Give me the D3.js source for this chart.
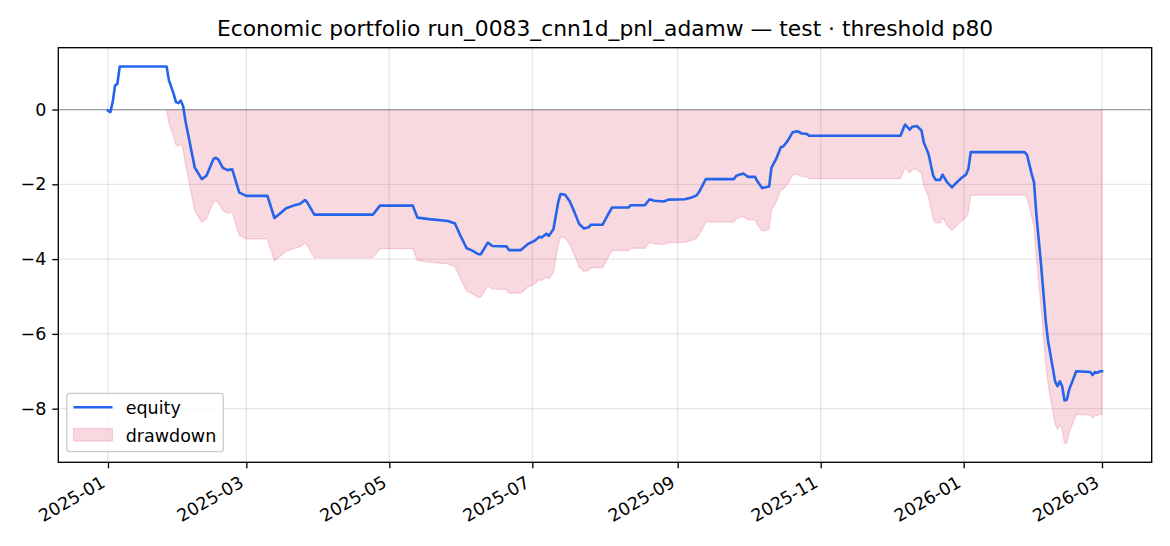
<!DOCTYPE html>
<html>
<head>
<meta charset="utf-8">
<script src="https://cdn.jsdelivr.net/npm/d3@7"></script>
<style>
  html, body { margin: 0; padding: 0; background: #fff; }
  svg { display: block; font-family: "DejaVu Sans", sans-serif; }
</style>
</head>
<body>
<svg id="chart" width="1170" height="546"></svg>
<script>
// ---------------- data ----------------
const titleText = "Economic portfolio run_0083_cnn1d_pnl_adamw — test · threshold p80";

const dates = [
  "2025-01-01","2025-01-02","2025-01-03","2025-01-04","2025-01-05","2025-01-06","2025-01-26","2025-01-27",
  "2025-01-29","2025-01-30","2025-01-31","2025-02-01","2025-02-02","2025-02-03","2025-02-07","2025-02-10",
  "2025-02-12","2025-02-15","2025-02-16","2025-02-17","2025-02-19","2025-02-21","2025-02-23","2025-02-26",
  "2025-03-01","2025-03-10","2025-03-13","2025-03-15","2025-03-18","2025-03-22","2025-03-24","2025-03-26",
  "2025-03-27","2025-03-30","2025-04-24","2025-04-27","2025-05-11","2025-05-13","2025-05-18","2025-05-26",
  "2025-05-29","2025-05-31","2025-06-03","2025-06-05","2025-06-08","2025-06-09","2025-06-12","2025-06-14",
  "2025-06-20","2025-06-21","2025-06-26","2025-06-29","2025-07-02","2025-07-04","2025-07-05","2025-07-07",
  "2025-07-08","2025-07-10","2025-07-12","2025-07-13","2025-07-15","2025-07-17","2025-07-19","2025-07-21",
  "2025-07-23","2025-07-25","2025-07-26","2025-07-31","2025-08-02","2025-08-04","2025-08-11","2025-08-12",
  "2025-08-18","2025-08-20","2025-08-22","2025-08-26","2025-08-28","2025-09-04","2025-09-07","2025-09-09",
  "2025-09-10","2025-09-13","2025-09-25","2025-09-26","2025-09-29","2025-10-01","2025-10-04","2025-10-05",
  "2025-10-07","2025-10-10","2025-10-11","2025-10-13","2025-10-15","2025-10-16","2025-10-18","2025-10-20",
  "2025-10-22","2025-10-24","2025-10-26","2025-10-27","2025-12-05","2025-12-07","2025-12-09","2025-12-10",
  "2025-12-12","2025-12-14","2025-12-15","2025-12-17","2025-12-19","2025-12-20","2025-12-22","2025-12-23",
  "2025-12-25","2025-12-27","2025-12-29","2025-12-31","2026-01-02","2026-01-03","2026-01-04","2026-01-27",
  "2026-01-28","2026-01-30","2026-01-31","2026-02-01","2026-02-03","2026-02-05","2026-02-06","2026-02-09",
  "2026-02-10","2026-02-11","2026-02-12","2026-02-13","2026-02-14","2026-02-15","2026-02-18","2026-02-24",
  "2026-02-25","2026-02-26","2026-02-27","2026-02-28","2026-03-01"
];

const equity = [
  -0.03,-0.07,0.20,0.64,0.69,1.15,1.15,0.78,
  0.42,0.20,0.17,0.24,0.10,-0.29,-1.55,-1.86,
  -1.77,-1.32,-1.29,-1.33,-1.56,-1.62,-1.60,-2.22,
  -2.31,-2.31,-2.90,-2.80,-2.64,-2.55,-2.52,-2.42,
  -2.48,-2.81,-2.81,-2.57,-2.57,-2.89,-2.93,-2.98,
  -3.05,-3.33,-3.71,-3.76,-3.87,-3.87,-3.56,-3.65,
  -3.66,-3.76,-3.76,-3.60,-3.51,-3.40,-3.42,-3.32,
  -3.38,-3.20,-2.49,-2.26,-2.28,-2.46,-2.75,-3.06,
  -3.18,-3.15,-3.08,-3.08,-2.84,-2.62,-2.62,-2.56,
  -2.56,-2.40,-2.44,-2.46,-2.41,-2.40,-2.35,-2.30,
  -2.22,-1.86,-1.86,-1.77,-1.71,-1.80,-1.80,-1.92,
  -2.10,-2.06,-1.55,-1.32,-1.01,-0.99,-0.83,-0.61,
  -0.58,-0.64,-0.65,-0.70,-0.70,-0.40,-0.54,-0.46,
  -0.44,-0.56,-0.88,-1.19,-1.77,-1.88,-1.88,-1.74,
  -1.95,-2.08,-1.95,-1.83,-1.74,-1.59,-1.14,-1.14,
  -1.21,-1.72,-1.95,-2.80,-4.14,-5.66,-6.19,-7.27,
  -7.40,-7.27,-7.40,-7.78,-7.76,-7.49,-7.00,-7.02,
  -7.10,-7.02,-7.04,-7.00,-7.00
];

const drawdown = [
  0.00,-0.04,0.00,0.00,0.00,0.00,0.00,-0.37,
  -0.73,-0.95,-0.98,-0.91,-1.05,-1.44,-2.70,-3.01,
  -2.92,-2.47,-2.44,-2.48,-2.71,-2.77,-2.75,-3.37,
  -3.46,-3.46,-4.05,-3.95,-3.79,-3.70,-3.67,-3.57,
  -3.63,-3.96,-3.96,-3.72,-3.72,-4.04,-4.08,-4.13,
  -4.20,-4.48,-4.86,-4.91,-5.02,-5.02,-4.71,-4.80,
  -4.81,-4.91,-4.91,-4.75,-4.66,-4.55,-4.57,-4.47,
  -4.53,-4.35,-3.64,-3.41,-3.43,-3.61,-3.90,-4.21,
  -4.33,-4.30,-4.23,-4.23,-3.99,-3.77,-3.77,-3.71,
  -3.71,-3.55,-3.59,-3.61,-3.56,-3.55,-3.50,-3.45,
  -3.37,-3.01,-3.01,-2.92,-2.86,-2.95,-2.95,-3.07,
  -3.25,-3.21,-2.70,-2.47,-2.16,-2.14,-1.98,-1.76,
  -1.73,-1.79,-1.80,-1.85,-1.85,-1.55,-1.69,-1.61,
  -1.59,-1.71,-2.03,-2.34,-2.92,-3.03,-3.03,-2.89,
  -3.10,-3.23,-3.10,-2.98,-2.89,-2.74,-2.29,-2.29,
  -2.36,-2.87,-3.10,-3.95,-5.29,-6.81,-7.34,-8.42,
  -8.55,-8.42,-8.55,-8.93,-8.91,-8.64,-8.15,-8.17,
  -8.25,-8.17,-8.19,-8.15,-8.15
];

const xTickLabels = ["2025-01","2025-03","2025-05","2025-07","2025-09","2025-11","2026-01","2026-03"];
const yTickValues = [-8, -6, -4, -2, 0];
const legendLabels = ["equity", "drawdown"];

// ---------------- layout ----------------
const W = 1170, H = 546;
const L = 58.3, R = 1151.7, T = 47.7, B = 462.3;
const FS = 17.5;
const lineColor = "#2563eb";
const ddColor = "rgb(225,65,100)";

const parse = d3.utcParse("%Y-%m-%d");
const parseM = d3.utcParse("%Y-%m");
const rows = dates.map((d, i) => ({ date: parse(d), eq: equity[i], dd: drawdown[i] }));

const svg = d3.select("#chart");

// x scale with matplotlib-like 5% margins
const xExt = d3.extent(rows, r => r.date);
const xSpan = xExt[1] - xExt[0];
const x = d3.scaleUtc()
  .domain([new Date(+xExt[0] - 0.05 * xSpan), new Date(+xExt[1] + 0.05 * xSpan)])
  .range([L, R]);

const yMin = d3.min(rows, r => Math.min(r.eq, r.dd));
const yMax = d3.max(rows, r => Math.max(r.eq, r.dd));
const ySpan = yMax - yMin;
const y = d3.scaleLinear()
  .domain([yMin - 0.05 * ySpan, yMax + 0.05 * ySpan])
  .range([B, T]);

const xTicks = xTickLabels.map(s => parseM(s));

// grid
const grid = svg.append("g");
grid.selectAll("line.gx").data(xTicks).enter().append("line")
  .attr("x1", d => x(d)).attr("x2", d => x(d)).attr("y1", T).attr("y2", B)
  .attr("stroke", "#b0b0b0").attr("stroke-opacity", 0.3).attr("stroke-width", 1.33);
grid.selectAll("line.gy").data(yTickValues).enter().append("line")
  .attr("x1", L).attr("x2", R).attr("y1", d => y(d)).attr("y2", d => y(d))
  .attr("stroke", "#b0b0b0").attr("stroke-opacity", 0.3).attr("stroke-width", 1.33);

// clip
svg.append("clipPath").attr("id", "clip").append("rect")
  .attr("x", L).attr("y", T).attr("width", R - L).attr("height", B - T);
const plot = svg.append("g").attr("clip-path", "url(#clip)");

// drawdown area
const area = d3.area().x(r => x(r.date)).y0(() => y(0)).y1(r => y(r.dd));
plot.append("path").datum(rows).attr("d", area)
  .attr("fill", ddColor).attr("fill-opacity", 0.2)
  .attr("stroke", ddColor).attr("stroke-opacity", 0.2).attr("stroke-width", 1.3);

// zero line
plot.append("line").attr("x1", L).attr("x2", R).attr("y1", y(0)).attr("y2", y(0))
  .attr("stroke", "rgb(140,145,158)").attr("stroke-opacity", 0.85).attr("stroke-width", 1.3);

// equity line
const line = d3.line().x(r => x(r.date)).y(r => y(r.eq));
plot.append("path").datum(rows).attr("d", line)
  .attr("fill", "none").attr("stroke", lineColor).attr("stroke-width", 2.6)
  .attr("stroke-linejoin", "round").attr("stroke-linecap", "square");

// axes via d3
const xAxis = d3.axisBottom(x).tickValues(xTicks).tickFormat(d3.utcFormat("%Y-%m"))
  .tickSize(6).tickPadding(6);
const gx = svg.append("g").attr("transform", `translate(0,${B})`).call(xAxis);
gx.select(".domain").remove();
gx.selectAll(".tick line").attr("stroke", "#000").attr("stroke-width", 1.33);
gx.selectAll(".tick text")
  .attr("fill", "#000").style("font-size", FS + "px").style("font-family", "DejaVu Sans")
  .attr("text-anchor", "end").attr("dy", null).attr("y", null)
  .attr("transform", `translate(-2,${6 + 6 + 11.6}) rotate(-30)`);

const yAxis = d3.axisLeft(y).tickValues(yTickValues)
  .tickFormat(d => d < 0 ? "\u2212" + Math.abs(d) : String(d))
  .tickSize(6).tickPadding(6);
const gy = svg.append("g").attr("transform", `translate(${L},0)`).call(yAxis);
gy.select(".domain").remove();
gy.selectAll(".tick line").attr("stroke", "#000").attr("stroke-width", 1.33);
gy.selectAll(".tick text").attr("fill", "#000")
  .style("font-size", FS + "px").style("font-family", "DejaVu Sans");

// spines
svg.append("rect").attr("x", L).attr("y", T).attr("width", R - L).attr("height", B - T)
  .attr("fill", "none").attr("stroke", "#000").attr("stroke-width", 1.33);

// title
svg.append("text").attr("x", (L + R) / 2).attr("y", 36)
  .attr("text-anchor", "middle").style("font-size", "21.8px").attr("fill", "#000")
  .text(titleText);

// legend
const lg = svg.append("g");
lg.append("rect").attr("x", 66.7).attr("y", 393.3).attr("width", 156.6).attr("height", 58.4)
  .attr("rx", 3.3).attr("fill", "#fff").attr("fill-opacity", 0.8)
  .attr("stroke", "#cccccc").attr("stroke-width", 1.33);
lg.append("line").attr("x1", 73.5).attr("x2", 112.5).attr("y1", 407.3).attr("y2", 407.3)
  .attr("stroke", lineColor).attr("stroke-width", 2.6);
lg.append("rect").attr("x", 73.5).attr("y", 428.5).attr("width", 39).attr("height", 12.5)
  .attr("fill", ddColor).attr("fill-opacity", 0.2)
  .attr("stroke", ddColor).attr("stroke-opacity", 0.2).attr("stroke-width", 1.3);
lg.selectAll("text.lt").data(legendLabels).enter().append("text")
  .attr("x", 125.7).attr("y", (d, i) => 413.5 + i * 28)
  .style("font-size", FS + "px").attr("fill", "#000").text(d => d);
</script>
</body>
</html>
